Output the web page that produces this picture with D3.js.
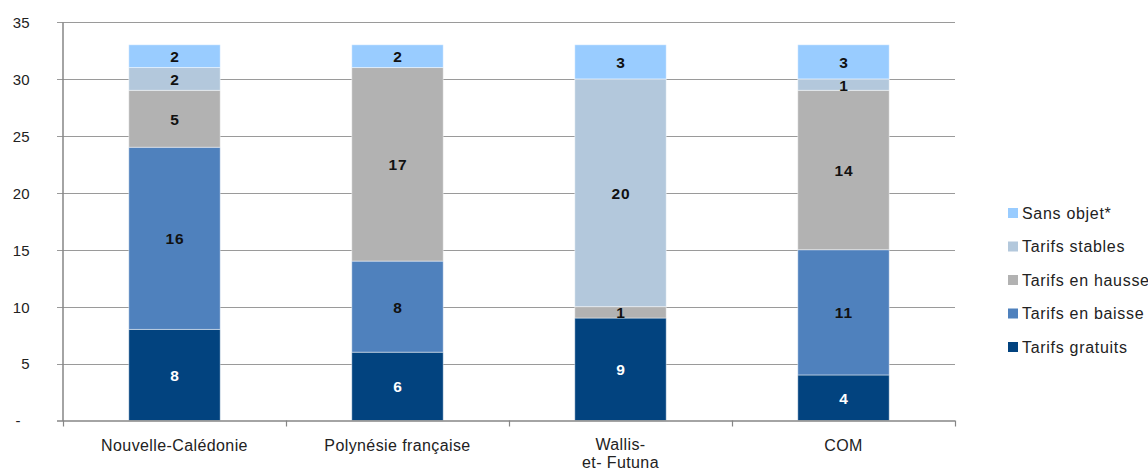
<!DOCTYPE html>
<html>
<head>
<meta charset="utf-8">
<script src="https://cdn.jsdelivr.net/npm/d3@7"></script>
<style>
  html, body { margin: 0; padding: 0; background: #fff; overflow: hidden; }
  svg { display: block; font-family: "Liberation Sans", Arial, sans-serif; }
</style>
</head>
<body>
<svg id="chart" width="1148" height="471"></svg>
<script>
// Territories (multi-line labels split on "\n")
const categories = ["Nouvelle-Calédonie", "Polynésie française", "Wallis-\net- Futuna", "COM"];

// Series, stacked bottom to top
const seriesNames = ["Tarifs gratuits", "Tarifs en baisse", "Tarifs en hausse", "Tarifs stables", "Sans objet*"];
const tarifsGratuits = [8, 6, 9, 4];
const tarifsBaisse   = [16, 8, 0, 11];
const tarifsHausse   = [5, 17, 1, 14];
const tarifsStables  = [2, 0, 20, 1];
const sansObjet      = [2, 2, 3, 3];

const yTicks = [0, 5, 10, 15, 20, 25, 30, 35];
const yTickLabels = ["-", "5", "10", "15", "20", "25", "30", "35"];

const colors = ["#02437F", "#4F81BD", "#B2B2B2", "#B3C8DC", "#99CCFF"];
const labelColors = ["#ffffff", "#111111", "#111111", "#111111", "#111111"];

const rows = categories.map((c, i) => ({
  cat: c,
  "Tarifs gratuits": tarifsGratuits[i],
  "Tarifs en baisse": tarifsBaisse[i],
  "Tarifs en hausse": tarifsHausse[i],
  "Tarifs stables": tarifsStables[i],
  "Sans objet*": sansObjet[i]
}));

const svg = d3.select("#chart");
const plot = { left: 63, right: 955, top: 22, bottom: 420.5 };

const x = d3.scaleBand().domain(categories).range([plot.left, plot.right]).paddingInner(0).paddingOuter(0);
const y = d3.scaleLinear().domain([0, 35]).range([plot.bottom, plot.top]);

// Horizontal gridlines
svg.append("g")
  .selectAll("line")
  .data(yTicks.filter(t => t > 0))
  .join("line")
  .attr("x1", plot.left - 6)
  .attr("x2", plot.right)
  .attr("y1", d => Math.round(y(d)) + 0.5)
  .attr("y2", d => Math.round(y(d)) + 0.5)
  .attr("stroke", "#9A9A9A")
  .attr("stroke-width", 1);

// Stacked bars
const stack = d3.stack().keys(seriesNames);
const layers = stack(rows);
const barW = x.bandwidth() * 0.41;

const layerG = svg.append("g")
  .selectAll("g")
  .data(layers)
  .join("g")
  .attr("fill", (d, i) => colors[i]);

layerG.selectAll("rect")
  .data(d => d.map(s => ({ s, cat: s.data.cat })))
  .join("rect")
  .filter(d => d.s[1] - d.s[0] > 0)
  .attr("x", d => x(d.cat) + (x.bandwidth() - barW) / 2)
  .attr("width", barW)
  .attr("y", d => y(d.s[1]))
  .attr("height", d => y(d.s[0]) - y(d.s[1]))
  .attr("stroke", "#ffffff")
  .attr("stroke-opacity", 0.45)
  .attr("stroke-width", 1);

// Value labels
layers.forEach((layer, li) => {
  svg.append("g")
    .selectAll("text")
    .data(layer.filter(s => s[1] - s[0] > 0))
    .join("text")
    .attr("x", s => x(s.data.cat) + x.bandwidth() / 2 + 0.5)
    .attr("y", s => y((s[0] + s[1]) / 2))
    .attr("dy", "0.38em")
    .attr("text-anchor", "middle")
    .attr("font-size", 15.5)
    .attr("font-weight", "bold")
    .attr("letter-spacing", 1)
    .attr("fill", labelColors[li])
    .text(s => s[1] - s[0]);
});

// Y axis
const yAxis = d3.axisLeft(y).tickValues(yTicks).tickFormat((d, i) => yTickLabels[i]).tickSize(0).tickPadding(0);
const yg = svg.append("g").attr("transform", `translate(${plot.left - 0.5},0)`).call(yAxis);
yg.select(".domain").attr("stroke", "#868686").attr("stroke-width", 1.5);
yg.selectAll("text")
  .attr("x", d => d === 0 ? -42 : -33)
  .attr("dy", "0.36em")
  .attr("font-size", 15)
  .attr("fill", "#222")
  .attr("font-family", "\"Liberation Sans\", Arial, sans-serif");

// X axis baseline with boundary ticks
svg.append("line")
  .attr("x1", plot.left - 6).attr("x2", plot.right)
  .attr("y1", plot.bottom + 0.5).attr("y2", plot.bottom + 0.5)
  .attr("stroke", "#868686").attr("stroke-width", 1.5);

const boundaries = categories.map(c => x(c)).concat([plot.right]);
svg.append("g")
  .selectAll("line")
  .data(boundaries)
  .join("line")
  .attr("x1", d => Math.round(d) + 0.5)
  .attr("x2", d => Math.round(d) + 0.5)
  .attr("y1", plot.bottom)
  .attr("y2", plot.bottom + 6)
  .attr("stroke", "#868686")
  .attr("stroke-width", 1.2);

// Category labels
const catText = svg.append("g")
  .selectAll("text")
  .data(categories)
  .join("text")
  .attr("x", d => x(d) + x.bandwidth() / 2)
  .attr("y", 451)
  .attr("text-anchor", "middle")
  .attr("font-size", 16)
  .attr("letter-spacing", 0.4)
  .attr("fill", "#222");
catText.each(function(d) {
  const lines = d.split("\n");
  const t = d3.select(this);
  lines.forEach((ln, i) => {
    t.append("tspan")
      .attr("x", x(d) + x.bandwidth() / 2)
      .attr("y", i === 0 ? (lines.length > 1 ? 450 : 451) : 468)
      .text(ln);
  });
});

// Legend (top to bottom: reverse of stacking order)
const legendItems = seriesNames.map((n, i) => ({ n, c: colors[i] })).reverse();
const lg = svg.append("g")
  .selectAll("g")
  .data(legendItems)
  .join("g")
  .attr("transform", (d, i) => `translate(1008, ${213 + i * 33.5})`);
lg.append("rect")
  .attr("x", 0).attr("y", -5)
  .attr("width", 10).attr("height", 10)
  .attr("fill", d => d.c);
lg.append("text")
  .attr("x", 14)
  .attr("dy", "0.36em")
  .attr("font-size", 16)
  .attr("letter-spacing", 0.7)
  .attr("fill", "#222")
  .text(d => d.n);
</script>
</body>
</html>
